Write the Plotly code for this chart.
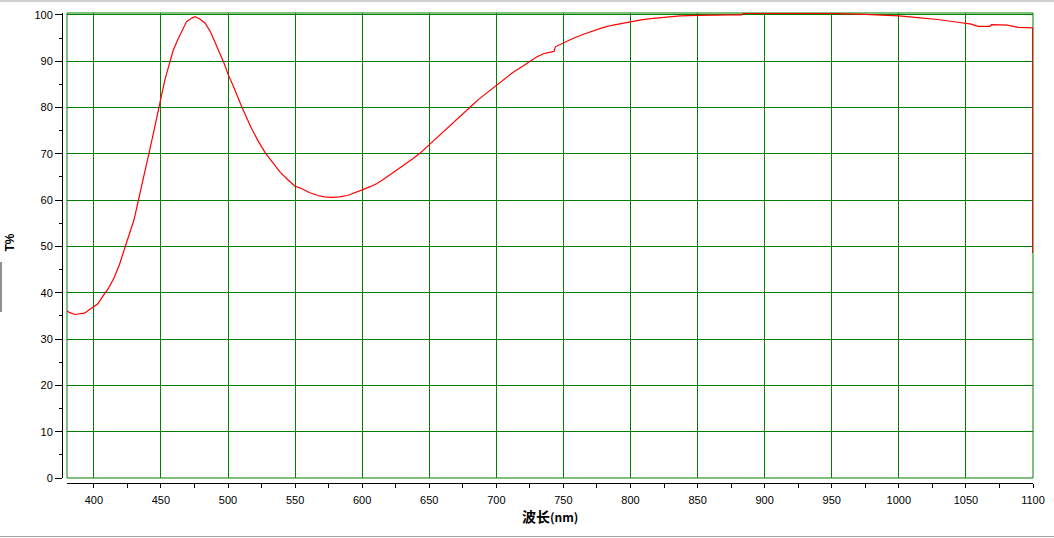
import plotly.graph_objects as go

# wavelength (nm) and transmittance (%)
wavelength = [380, 382, 386, 391, 393, 396, 400, 403, 408, 411, 415, 419, 423, 426, 430,
              433, 437, 441, 445, 449, 450, 453, 457, 459, 462, 466, 469, 473, 475.5, 479,
              483, 487, 490, 494, 497, 500, 504, 510, 517, 522, 528, 534, 539, 545, 550,
              554, 561, 567, 572, 577, 583, 589, 595, 600, 606, 611, 617, 622, 628, 633,
              638, 643, 650, 656, 662, 668, 675, 681, 687, 694, 700, 706, 712, 719, 725,
              730, 735, 740, 743, 744, 750, 757, 765, 773, 780, 787, 794, 800, 808, 815,
              825, 837, 850, 862, 875, 883, 884, 900, 925, 950, 975, 997, 1000, 1014, 1029,
              1044, 1054, 1059, 1068, 1069, 1081, 1089, 1100, 1100]
transmittance = [36.1, 35.7, 35.3, 35.4, 35.6, 36.2, 37.1, 37.6, 39.8, 41.0, 43.2, 46.0, 49.6, 52.2, 55.8,
                 59.7, 64.5, 70.0, 75.2, 80.2, 82.0, 86.0, 90.0, 92.2, 94.3, 96.9, 98.5, 99.3, 99.6, 99.1,
                 98.2, 96.3, 94.4, 91.8, 89.6, 87.2, 84.6, 80.3, 75.8, 73.0, 70.1, 67.9, 66.0, 64.3, 63.0,
                 62.6, 61.6, 61.0, 60.7, 60.6, 60.7, 61.0, 61.6, 62.2, 62.9, 63.6, 64.7, 65.7, 66.9, 68.0,
                 69.0, 70.1, 72.0, 73.6, 75.2, 76.8, 78.7, 80.2, 81.8, 83.4, 84.8, 86.2, 87.5, 88.8, 89.9,
                 90.9, 91.6, 91.9, 92.1, 93.1, 94.0, 94.9, 95.8, 96.6, 97.3, 97.8, 98.2, 98.6, 98.9, 99.2,
                 99.5, 99.8, 99.9, 100.0, 100.0, 100.0, 100.3, 100.3, 100.3, 100.3, 100.1, 99.9, 99.8, 99.4, 99.0,
                 98.4, 98.0, 97.5, 97.5, 97.9, 97.8, 97.3, 97.2, 48.6]

x_title = "<b>波长</b><b style='font-size:12px'>(nm)</b>"
y_title = "<b>T%</b>"

W, H = 1054, 538
L, R, T, B = 62, 21, 13, 55
pw = W - L - R
ph = H - T - B

GREEN = "#008000"
RED = "#ff0000"
FONT = "Liberation Sans, Arial, sans-serif"

fig = go.Figure()
fig.add_trace(go.Scatter(x=wavelength, y=transmittance, mode="lines",
                         line=dict(color=RED, width=1.2), hoverinfo="skip", cliponaxis=False))
# final drop at the end of the scan is drawn thicker in the reference
fig.add_trace(go.Scatter(x=wavelength[-2:], y=transmittance[-2:], mode="lines",
                         line=dict(color=RED, width=2), hoverinfo="skip", cliponaxis=False))

fig.update_layout(
    template="none",
    width=W, height=H,
    margin=dict(l=L, r=R, t=T, b=B, pad=0, autoexpand=False),
    paper_bgcolor="white", plot_bgcolor="white",
    showlegend=False,
    font=dict(family=FONT, size=11, color="black"),
    xaxis=dict(
        domain=[(67 - L) / pw, 1], range=[380, 1100],
        anchor="free", position=0, automargin=False,
        tickmode="linear", tick0=0, dtick=50,
        ticks="outside", ticklen=4, tickcolor="black", tickwidth=1,
        ticklabelstandoff=3,
        minor=dict(dtick=25, tick0=0, ticks="outside", ticklen=4, tickcolor="black", showgrid=False),
        showline=True, linecolor="black", linewidth=1,
        showgrid=True, gridcolor=GREEN, gridwidth=1, zeroline=False,
        tickfont=dict(family=FONT, size=11, color="black"),
    ),
    yaxis=dict(
        domain=[(483 - 478) / ph, 1], range=[0, 100.4],
        anchor="free", position=0, automargin=False,
        tickmode="linear", tick0=0, dtick=10,
        ticks="outside", ticklen=7, tickcolor="black", tickwidth=1,
        minor=dict(dtick=5, tick0=0, ticks="outside", ticklen=3, tickcolor="black", showgrid=False),
        showline=True, linecolor="black", linewidth=1,
        showgrid=True, gridcolor=GREEN, gridwidth=1, zeroline=False,
        tickfont=dict(family=FONT, size=11, color="black"),
    ),
    shapes=[
        dict(type="rect", xref="x domain", yref="y domain", x0=0, x1=1, y0=0, y1=1,
             line=dict(color=GREEN, width=1), layer="below"),
        # window frame lines
        dict(type="line", xref="paper", yref="paper", x0=-L / pw, x1=1 + R / pw,
             y0=1 + (T - 1) / ph, y1=1 + (T - 1) / ph, line=dict(color="#a0a0a0", width=1)),
        dict(type="line", xref="paper", yref="paper", x0=-L / pw, x1=1 + R / pw,
             y0=-(536.5 - 483) / ph, y1=-(536.5 - 483) / ph, line=dict(color="#a0a0a0", width=1)),
        dict(type="line", xref="paper", yref="paper", x0=-(L - 1) / pw, x1=-(L - 1) / pw,
             y0=(483 - 262) / ph, y1=(483 - 312) / ph, line=dict(color="#909090", width=2)),
    ],
    annotations=[
        dict(text=x_title, xref="paper", yref="paper", x=(550 - L) / pw, y=-(516 - 483) / ph,
             xanchor="center", yanchor="middle", showarrow=False,
             font=dict(family="Noto Sans CJK SC, sans-serif", size=14, color="black")),
        dict(text=y_title, xref="paper", yref="paper", x=-(L - 9.5) / pw, y=(483 - 243) / ph,
             xanchor="center", yanchor="middle", showarrow=False, textangle=-90,
             font=dict(family=FONT, size=12, color="black")),
    ],
)

fig.write_html("out.html", config={"displayModeBar": False},
               post_script="document.body.style.margin='0';document.body.style.overflow='hidden';")
